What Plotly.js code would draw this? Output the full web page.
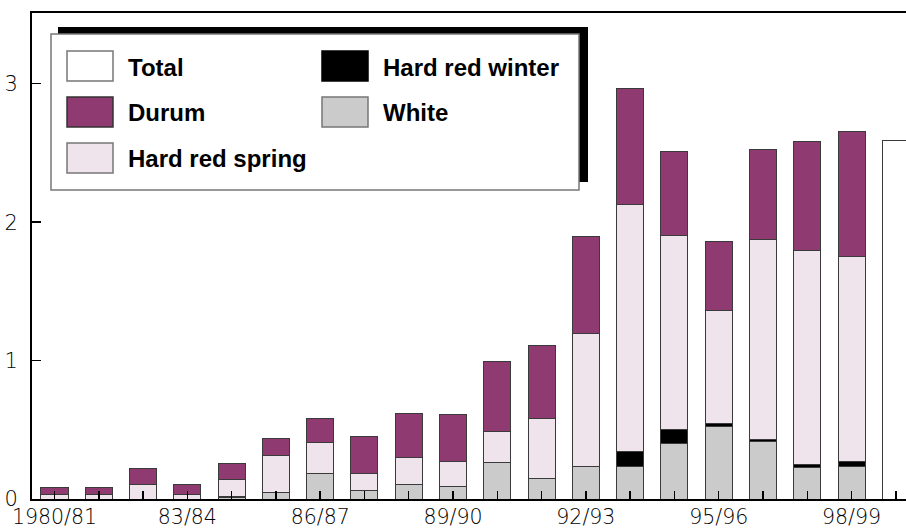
<!DOCTYPE html>
<html>
<head>
<meta charset="utf-8">
<script src="https://cdn.plot.ly/plotly-3.0.1.min.js"></script>
<style>html,body{margin:0;padding:0;background:#fff;}#chart{width:906px;height:531px;}</style>
</head>
<body>
<div id="chart"></div>
<script>
// ---- data (million metric tons) ----
const years = ['1980/81','81/82','82/83','83/84','84/85','85/86','86/87','87/88','88/89','89/90',
               '90/91','91/92','92/93','93/94','94/95','95/96','96/97','97/98','98/99','99/00'];
const tickLabels = ['1980/81','','','83/84','','','86/87','','','89/90',
                    '','','92/93','','','95/96','','','98/99',''];
const white        = [0,    0,    0,     0,     0.010, 0.045, 0.185, 0.063, 0.106, 0.087,
                      0.265,0.147,0.236, 0.235, 0.404, 0.526, 0.416, 0.226, 0.233, null];
const hardRedWinter= [0,    0,    0,     0,     0.005, 0.005, 0.002, 0.002, 0.002, 0.002,
                      0.002,0.002,0.002, 0.108, 0.098, 0.020, 0.014, 0.024, 0.039, null];
const hardRedSpring= [0.030,0.030,0.108, 0.030, 0.125, 0.267, 0.219, 0.120, 0.192, 0.180,
                      0.223,0.430,0.959, 1.786, 1.399, 0.814, 1.442, 1.543, 1.480, null];
const durum        = [0.050,0.050,0.110, 0.078, 0.120, 0.123, 0.175, 0.264, 0.320, 0.341,
                      0.502,0.533,0.700, 0.834, 0.613, 0.500, 0.654, 0.790, 0.903, null];
const total        = [null,null,null,null,null,null,null,null,null,null,
                      null,null,null,null,null,null,null,null,null,2.59];

const colors = {white:'#cbcbcb', hrw:'#000000', hrs:'#efe4ec', durum:'#8f3a70', total:'#ffffff'};
const outline = {color:'#3a3a3a', width:1};

function bar(name, y, color){
  return {type:'bar', name:name, x:years, y:y, marker:{color:color, line:outline},
          showlegend:false, hoverinfo:'x+y+name'};
}
const traces = [
  bar('White', white, colors.white),
  bar('Hard red winter', hardRedWinter, colors.hrw),
  bar('Hard red spring', hardRedSpring, colors.hrs),
  bar('Durum', durum, colors.durum),
  bar('Total', total, colors.total)
];

// ---- layout helpers (pixel -> paper) ----
const W=906, H=531, ML=32, MR=0, MT=13, MB=32;
const PW=W-ML-MR, PH=H-MT-MB;
const px=x=>(x-ML)/PW, py=y=>(H-MB-y)/PH;
function rect(x0,y0,x1,y1,fill,line){
  return {type:'rect', xref:'paper', yref:'paper', layer:'above',
          x0:px(x0), x1:px(x1), y0:py(y1), y1:py(y0),
          fillcolor:fill, line:line||{width:0}};
}
const legendItems = [
  {name:'Total', color:colors.total, col:0, row:0, border:'#777'},
  {name:'Durum', color:colors.durum, col:0, row:1, border:'#333'},
  {name:'Hard red spring', color:colors.hrs, col:0, row:2, border:'#777'},
  {name:'Hard red winter', color:colors.hrw, col:1, row:0, border:'#000'},
  {name:'White', color:colors.white, col:1, row:1, border:'#777'}
];
const colX=[67,322], rowY=[51,97,143];
const shapes=[
  rect(58,27,588,182,'#000'),
  rect(51,34,579,190,'#fff',{color:'#777',width:1.5})
];
const annotations=[];
legendItems.forEach(it=>{
  const x0=colX[it.col], y0=rowY[it.row];
  shapes.push(rect(x0,y0,x0+46,y0+30,it.color,{color:it.border,width:1.5}));
  annotations.push({xref:'paper',yref:'paper',x:px(x0+59),y:py(y0+16),xanchor:'left',yanchor:'middle',
    text:it.name,showarrow:false,font:{family:'Liberation Sans, Arial, sans-serif',size:24,color:'#000',weight:'bold'}});
});

const xTickFont={family:'DejaVu Sans, sans-serif', size:20.5, color:'#000', weight:200};
const yTickFont={family:'DejaVu Sans, sans-serif', size:21, color:'#000', weight:200};
const layout={
  width:W, height:H, margin:{l:ML,r:MR,t:MT,b:MB,pad:0},
  paper_bgcolor:'#fff', plot_bgcolor:'#fff',
  barmode:'stack', bargap:0.39, showlegend:false,
  xaxis:{type:'category', range:[-0.508,19.23], tickvals:years, ticktext:tickLabels,
         ticks:'inside', ticklen:8, tickwidth:1.5, tickcolor:'#000',
         showline:true, linecolor:'#000', linewidth:2, mirror:true, ticklabelstandoff:-2,
         showgrid:false, zeroline:false, tickfont:xTickFont, tickangle:0, automargin:false},
  yaxis:{range:[0,3.511], tickvals:[0,1,2,3], ticktext:['0','1','2','3'],
         ticks:'inside', ticklen:9, tickwidth:1.5, tickcolor:'#000',
         showline:true, linecolor:'#000', linewidth:2,
         showgrid:false, zeroline:false, tickfont:yTickFont, ticklabelstandoff:8, automargin:false},
  shapes:shapes, annotations:annotations
};
Plotly.newPlot('chart', traces, layout, {staticPlot:true, displayModeBar:false});
</script>
</body>
</html>
